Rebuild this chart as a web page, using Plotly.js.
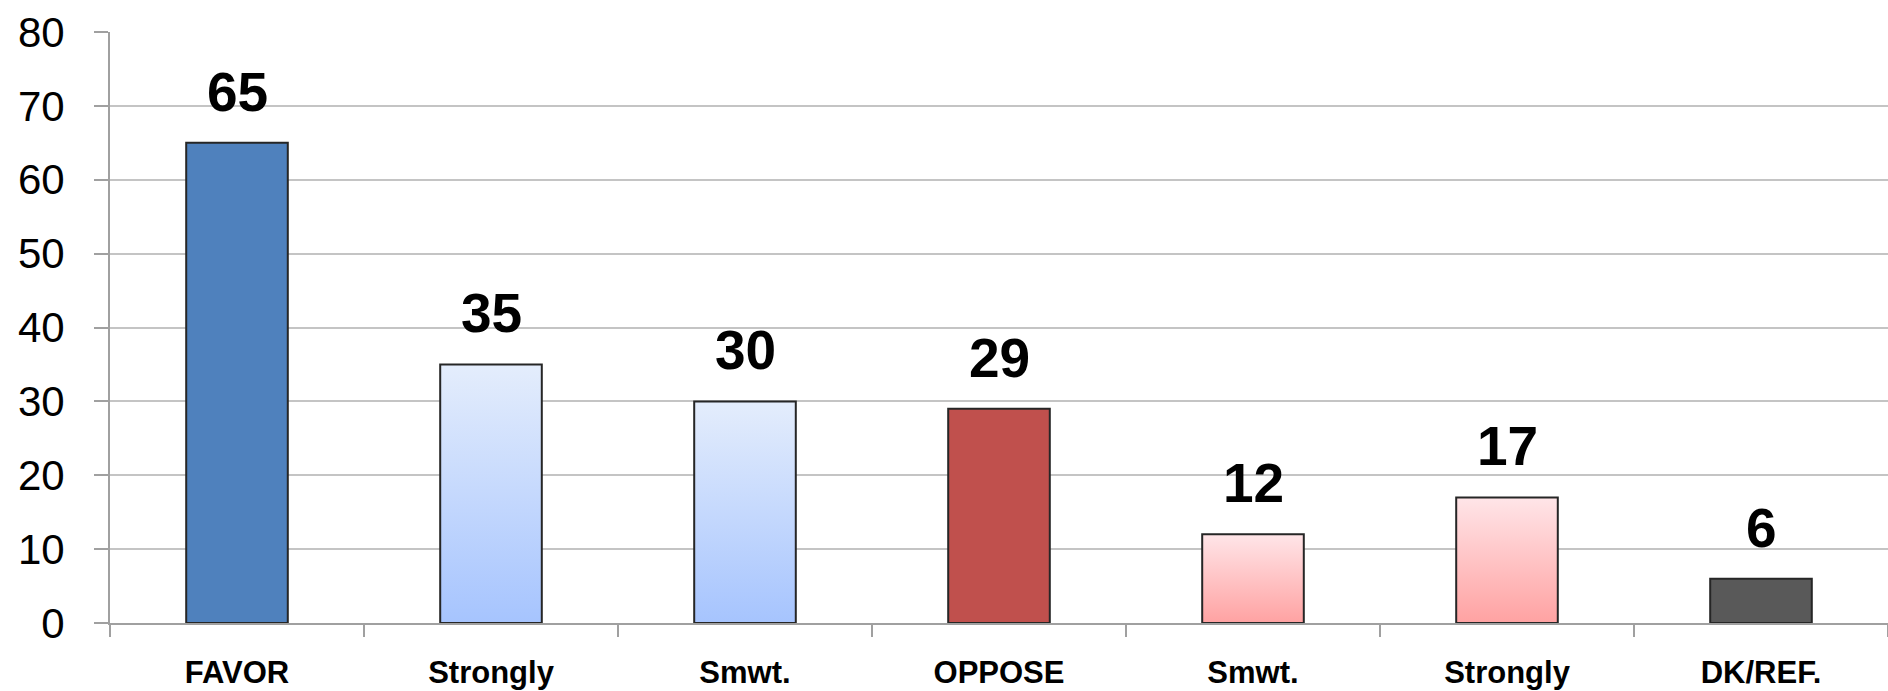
<!DOCTYPE html>
<html>
<head>
<meta charset="utf-8">
<script src="https://cdn.plot.ly/plotly-3.0.1.min.js"></script>
<style>
  html, body { margin: 0; padding: 0; background: #ffffff; }
  #chart { width: 1888px; height: 691px; }
</style>
</head>
<body>
<div id="chart"></div>
<script>
// ---- data ----
const categoryIds = ['FAVOR', 'Strongly (favor)', 'Smwt. (favor)', 'OPPOSE', 'Smwt. (oppose)', 'Strongly (oppose)', 'DK/REF.'];
const tickLabels  = ['FAVOR', 'Strongly', 'Smwt.', 'OPPOSE', 'Smwt.', 'Strongly', 'DK/REF.'];
const values      = [65, 35, 30, 29, 12, 17, 6];
const yTicks      = [0, 10, 20, 30, 40, 50, 60, 70, 80];

// ---- styles ----
const fills = ['#4F81BD', 'url(#gradBlue)', 'url(#gradBlue)', '#C0504D', 'url(#gradRed)', 'url(#gradRed)', '#595959'];
const baseColors = ['#4F81BD', '#C6D9FC', '#C6D9FC', '#C0504D', '#FFC6C9', '#FFC6C9', '#595959'];
const FONT = '"Liberation Sans", Arial, sans-serif';

const trace = {
  type: 'bar',
  x: categoryIds,
  y: values,
  marker: { color: baseColors, line: { color: '#262626', width: 2 } },
  hoverinfo: 'none',
  showlegend: false
};

const annotations = categoryIds.map((c, i) => ({
  x: c, y: values[i], xref: 'x', yref: 'y',
  text: String(values[i]),
  showarrow: false, yanchor: 'bottom', yshift: 18,
  font: { family: FONT, size: 55, color: '#000000', weight: 'bold' }
}));

const layout = {
  width: 1888, height: 691,
  margin: { l: 110, r: 0, t: 32, b: 68, pad: 0 },
  paper_bgcolor: '#ffffff', plot_bgcolor: '#ffffff',
  bargap: 0.6,
  font: { family: FONT, color: '#000000' },
  xaxis: {
    type: 'category',
    tickmode: 'array', tickvals: categoryIds, ticktext: tickLabels,
    tickson: 'boundaries',
    ticks: 'outside', ticklen: 12, tickwidth: 2, tickcolor: '#A0A0A0',
    showline: true, linecolor: '#A0A0A0', linewidth: 2,
    showgrid: false, zeroline: false,
    tickfont: { family: FONT, size: 31, color: '#000000', weight: 'bold' },
    ticklabelstandoff: 21,
    fixedrange: true
  },
  yaxis: {
    range: [0, 80], tickmode: 'array', tickvals: yTicks,
    ticks: 'outside', ticklen: 14, tickwidth: 2, tickcolor: '#A0A0A0',
    showline: true, linecolor: '#A0A0A0', linewidth: 2,
    showgrid: true, gridcolor: '#C4C4C4', gridwidth: 2,
    zeroline: false,
    tickfont: { family: FONT, size: 42, color: '#000000' },
    ticklabelstandoff: 21,
    fixedrange: true
  },
  annotations: annotations
};

Plotly.newPlot('chart', [trace], layout, { displayModeBar: false, staticPlot: true }).then(gd => {
  const svg = gd.querySelector('.main-svg');
  const ns = 'http://www.w3.org/2000/svg';
  let defs = svg.querySelector('defs');
  if (!defs) { defs = document.createElementNS(ns, 'defs'); svg.insertBefore(defs, svg.firstChild); }
  const mk = (id, top, bottom) => {
    const g = document.createElementNS(ns, 'linearGradient');
    g.setAttribute('id', id);
    g.setAttribute('x1', '0'); g.setAttribute('y1', '0');
    g.setAttribute('x2', '0'); g.setAttribute('y2', '1');
    [[0, top], [1, bottom]].forEach(([o, c]) => {
      const s = document.createElementNS(ns, 'stop');
      s.setAttribute('offset', String(o));
      s.setAttribute('stop-color', c);
      g.appendChild(s);
    });
    defs.appendChild(g);
  };
  mk('gradBlue', '#E4EDFC', '#A6C4FE');
  mk('gradRed', '#FFE5E8', '#FFA2A2');
  const paths = gd.querySelectorAll('.trace.bars .point path');
  paths.forEach((p, i) => { p.style.fill = fills[i]; });
});
</script>
</body>
</html>
